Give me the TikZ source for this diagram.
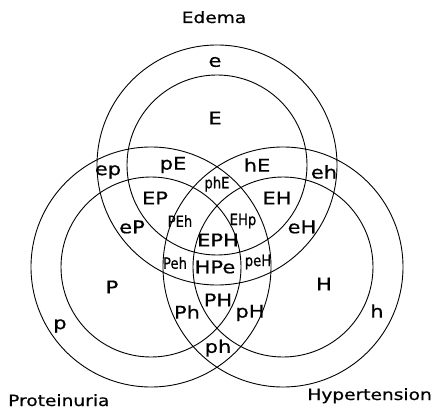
\documentclass[tikz,border=0pt]{standalone}
\usepackage{fontspec}
\setmainfont{DejaVu Sans}[FakeStretch=1.2, FakeBold=0.6]
\newfontfamily\slimfont{DejaVu Sans}[FakeStretch=0.85, FakeBold=0.6]
\usepackage{tikz}
\usetikzlibrary{positioning}
\tikzset{
  ring/.style={line width=0.9pt},
  title/.style={font=\fontsize{15.5}{16}\selectfont, inner sep=0pt},
  region/.style={font=\fontsize{17.5}{18}\selectfont, inner sep=0pt},
  subregion/.style={font=\slimfont\fontsize{15.5}{16}\selectfont, inner sep=0pt}
}

\begin{document}
\begin{tikzpicture}[x=1pt, y=-1pt]
\useasboundingbox (0,0) rectangle (434,409);
\coordinate (cE) at (217,165);
\coordinate (cP) at (151,267);
\coordinate (cH) at (283,267);
\foreach \c in {cE,cP,cH}{
  \draw[ring] (\c) circle (90pt);
  \draw[ring] (\c) circle (120pt);
}
\node[title, anchor=base] (edema) at (214,23) {Edema};
\node[title, anchor=base west] (prot) at (8,406) {Proteinuria};
\node[title, anchor=base east] (hyp) at (432,400) {Hypertension};
\node[region] (e) at (215,62) {e};
\node[region] (E) at (215,118) {E};
\node[region] (ep) at (108,172) {ep};
\node[region] (pE) at (173,165) {pE};
\node[subregion] (phE) at (217,184) {phE};
\node[region] (hE) at (257,165) {hE};
\node[region] (eh) at (324,172) {eh};
\node[region] (EP) at (155,198) {EP};
\node[region] (EH) at (277,198) {EH};
\node[region] (eP) at (132,227) {eP};
\node[subregion] (PEh) at (180,221) {PEh};
\node[subregion] (EHp) at (243,221) {EHp};
\node[region] (eH) at (302,227) {eH};
\node[region] (EPH) at (218,240) {EPH};
\node[subregion] (Peh) at (175,263) {Peh};
\node[region] (HPe) at (215,267) {HPe};
\node[subregion] (peH) at (258,262) {peH};
\node[region] (P) at (112,287) {P};
\node[region] (H) at (324,284) {H};
\node[region] (Ph) at (187,312) {Ph};
\node[region] (PH) at (218,300) {PH};
\node[region] (pH) at (250,313) {pH};
\node[region] (p) at (60,326) {p};
\node[region] (h) at (377,311) {h};
\node[region] (ph) at (218,348) {ph};
\end{tikzpicture}
\end{document}
